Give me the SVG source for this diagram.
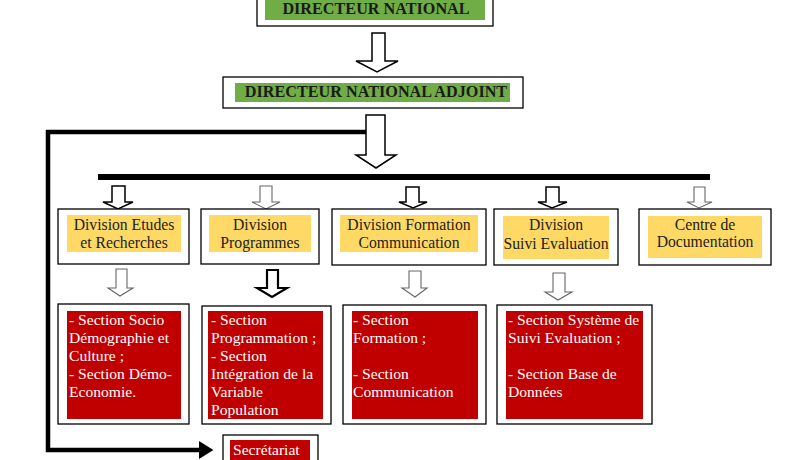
<svg xmlns="http://www.w3.org/2000/svg" width="787" height="460" viewBox="0 0 787 460">
<style>
.box{fill:#fff;stroke:#000;stroke-width:1.3}
.green{fill:#70ad47}
.yellow{fill:#ffd966}
.red{fill:#c00000}
text{font-family:"Liberation Serif","DejaVu Serif","Noto Serif",Tinos,"Times New Roman",Times,serif}
.hd{font-weight:bold;font-size:16.2px;fill:#1a1a1a;text-anchor:middle}
.dv{font-size:15.7px;fill:#222;text-anchor:middle}
.sc{font-size:15.6px;fill:#fff}
.ha{fill:#fff;stroke:#000;stroke-width:1.5;stroke-linejoin:miter}
.hg{fill:#fff;stroke:#666;stroke-width:1.1}
.hb{fill:#fff;stroke:#000;stroke-width:2.2}
</style>
<defs>
<marker id="ah" markerWidth="4" markerHeight="4" refX="0" refY="2" orient="auto" markerUnits="strokeWidth">
<path d="M0,0 L3.2,2 L0,4 Z" fill="#000"/>
</marker>
</defs>
<g id="connectors">
<path d="M366,132 H48 V450 H199" fill="none" stroke="#000" stroke-width="4.5" marker-end="url(#ah)"/>
<rect x="98" y="174" width="612" height="6" fill="#000"/>
<polygon class="ha" points="372,33 385,33 385,61 398,61 377,72 356,61 372,61"/>
<polygon class="ha" points="366,115 385,115 385,155 396,155 376,168 356,155 366,155"/>
<polygon class="ha" points="112,186 125,186 125,202 133,202 118,209 103,202 112,202"/>
<polygon class="hg" points="260,186 272,186 272,202 280,202 266,209 252,202 260,202"/>
<polygon class="ha" points="406,187 419,187 419,202 427,202 413,208 399,202 406,202"/>
<polygon class="ha" points="546,187 559,187 559,202 567,202 552,208 538,202 546,202"/>
<polygon class="hg" points="694,187 705,187 705,202 712,202 699,208 687,202 694,202"/>
<polygon class="hg" points="116,269 127,269 127,288 133,288 120,296 108,288 116,288"/>
<polygon class="hb" points="267,270 278,270 278,288 287,288 272,297 257,288 267,288"/>
<polygon class="hg" points="409,271 421,271 421,288 427,288 415,297 402,288 409,288"/>
<polygon class="hg" points="553,273 565,273 565,292 572,292 558,300 545,292 553,292"/>
</g>
<g id="directeur-national">
<rect class="box" x="257" y="-5" width="236" height="31"/>
<rect class="green" x="265" y="0" width="220" height="20"/>
<text class="hd" x="376" y="14">DIRECTEUR NATIONAL</text>
</g>
<g id="directeur-adjoint">
<rect class="box" x="223" y="77" width="300" height="31"/>
<rect class="green" x="235" y="83" width="275" height="19"/>
<text class="hd" x="376" y="97">DIRECTEUR NATIONAL ADJOINT</text>
</g>
<g id="div-etudes">
<rect class="box" x="58" y="209" width="131" height="55"/>
<rect class="yellow" x="67" y="215" width="114" height="37"/>
<text class="dv" x="124" y="230">Division Etudes</text>
<text class="dv" x="124" y="248">et Recherches</text>
</g>
<g id="div-programmes">
<rect class="box" x="201" y="209" width="118" height="55"/>
<rect class="yellow" x="209" y="215" width="102" height="37"/>
<text class="dv" x="260" y="230">Division</text>
<text class="dv" x="260" y="248">Programmes</text>
</g>
<g id="div-formation">
<rect class="box" x="332" y="209" width="154" height="56"/>
<rect class="yellow" x="340" y="215" width="138" height="37"/>
<text class="dv" x="409" y="230">Division Formation</text>
<text class="dv" x="409" y="248">Communication</text>
</g>
<g id="div-suivi">
<rect class="box" x="494" y="209" width="124" height="56"/>
<rect class="yellow" x="503" y="216" width="106" height="43"/>
<text class="dv" x="556" y="230">Division</text>
<text class="dv" x="556" y="249">Suivi Evaluation</text>
</g>
<g id="centre-doc">
<rect class="box" x="639" y="209" width="132" height="56"/>
<rect class="yellow" x="648" y="216" width="114" height="42"/>
<text class="dv" x="705" y="230">Centre de</text>
<text class="dv" x="705" y="247">Documentation</text>
</g>
<g id="sec-etudes">
<rect class="box" x="58" y="304" width="131" height="120" stroke="#222" stroke-width="2.2"/>
<rect class="red" x="67" y="311" width="114" height="108"/>
<text class="sc" x="69" y="325">- Section Socio</text>
<text class="sc" x="69" y="343">Démographie et</text>
<text class="sc" x="69" y="361">Culture ;</text>
<text class="sc" x="69" y="379">- Section Démo-</text>
<text class="sc" x="69" y="397">Economie.</text>
</g>
<g id="sec-programmes">
<rect class="box" x="202" y="306" width="129" height="118"/>
<rect class="red" x="208" y="311" width="115" height="108"/>
<text class="sc" x="211" y="325">- Section</text>
<text class="sc" x="211" y="343">Programmation ;</text>
<text class="sc" x="211" y="361">- Section</text>
<text class="sc" x="211" y="379">Intégration de la</text>
<text class="sc" x="211" y="397">Variable</text>
<text class="sc" x="211" y="415">Population</text>
</g>
<g id="sec-formation">
<rect class="box" x="343" y="305" width="143" height="119"/>
<rect class="red" x="352" y="311" width="126" height="108"/>
<text class="sc" x="353" y="325">- Section</text>
<text class="sc" x="353" y="343">Formation ;</text>
<text class="sc" x="353" y="379">- Section</text>
<text class="sc" x="353" y="397">Communication</text>
</g>
<g id="sec-suivi">
<rect class="box" x="497" y="305" width="155" height="119" stroke="#222" stroke-width="2.4"/>
<rect class="red" x="506" y="311" width="137" height="108"/>
<text class="sc" x="508" y="325">- Section Système de</text>
<text class="sc" x="508" y="343">Suivi Evaluation ;</text>
<text class="sc" x="508" y="379">- Section Base de</text>
<text class="sc" x="508" y="397">Données</text>
</g>
<g id="secretariat">
<rect class="box" x="223" y="435" width="95" height="40"/>
<rect class="red" x="230" y="440" width="80" height="30"/>
<text class="sc" x="233" y="455">Secrétariat</text>
</g>
</svg>
